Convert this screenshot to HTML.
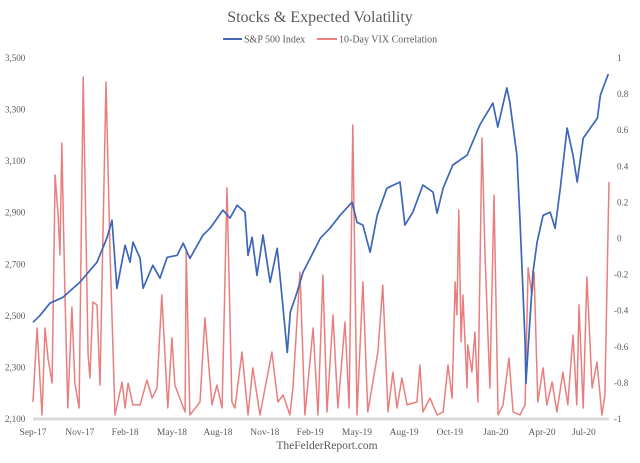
<!DOCTYPE html>
<html><head><meta charset="utf-8"><style>
html,body{margin:0;padding:0;background:#fff;}
svg{display:block;font-family:"Liberation Serif",serif;}
</style></head><body>
<svg id="chart" width="640" height="463" viewBox="0 0 640 463">
<text x="320" y="22" text-anchor="middle" font-size="16" fill="#595959">Stocks &amp; Expected Volatility</text>
<g>
<g><line x1="223" y1="39" x2="242" y2="39" stroke="#4169b8" stroke-width="2"/><text x="244" y="42.5" font-size="10" fill="#595959">S&amp;P 500 Index</text></g>
<g><line x1="317" y1="39" x2="337" y2="39" stroke="#ea8080" stroke-width="2"/><text x="339" y="42.5" font-size="10" fill="#595959">10-Day VIX Correlation</text></g>
</g>
<g id="leftAxis"></g>
<g id="rightAxis"></g>
<g id="xAxis"></g>
<line x1="33" y1="419" x2="609" y2="419" stroke="#d9d9d9" stroke-width="3"/>
<g id="series"></g>
<text x="327" y="449" text-anchor="middle" font-size="11.5" fill="#595959">TheFelderReport.com</text>
</svg>
<script>
const spWeeks=[0,1.9,4.5,8.0,12.5,17.1,19.8,21.1,22.4,24.6,25.9,26.7,28.6,29.4,32.0,33.9,35.8,38.5,40.1,41.9,45.4,47.3,50.7,52.6,54.5,56.6,57.4,58.5,59.8,61.4,63.3,65.2,66.0,67.9,68.7,70.5,72.1,74.0,76.7,79.3,82.0,85.2,86.5,88.1,90.0,91.9,94.5,98.0,99.3,101.4,104.1,106.8,107.9,109.5,112.1,115.9,119.3,122.8,124.1,126.5,127.3,129.2,130.0,131.4,131.6,133.5,134.6,136.2,138.1,139.4,140.8,142.6,144.2,145.3,146.9,150.7,151.5,153.6];
const spValues=[2475,2502,2549,2572,2630,2708,2805,2871,2607,2774,2708,2786,2723,2607,2696,2646,2727,2735,2782,2723,2813,2840,2910,2879,2929,2902,2735,2805,2657,2813,2630,2762,2646,2358,2514,2591,2669,2723,2801,2840,2890,2941,2863,2852,2747,2890,2995,3019,2852,2902,3007,2980,2898,2995,3085,3123,3240,3325,3232,3384,3329,3123,2879,2397,2238,2669,2786,2890,2902,2840,2995,3228,3123,3019,3189,3267,3356,3438];
const vixWeeks=[0,1.1,2.4,3.2,4.0,5.1,5.9,6.7,7.2,7.7,8.5,9.3,10.4,11.2,12.3,13.4,14.7,15.2,16.0,17.1,17.9,19.5,20.6,21.9,23.8,24.6,25.4,26.7,28.6,30.4,31.8,33.1,34.4,35.2,36.0,37.1,37.9,40.6,40.9,41.9,44.6,45.9,47.8,49.1,50.5,51.8,53.1,53.9,55.8,57.4,58.7,60.6,63.8,65.4,66.8,68.6,69.4,71.3,72.6,74.8,76.1,77.4,78.5,80.1,81.4,83.3,84.4,85.4,86.5,88.1,89.4,92.1,93.4,94.8,96.1,97.2,98.5,99.9,102.5,103.3,104.1,106.0,107.9,109.5,110.8,111.9,112.7,113.2,113.7,114.3,114.8,115.9,116.1,117.2,118.0,118.8,119.9,120.7,122.0,123.1,124.2,125.5,127.1,128.2,130.0,131.4,132.2,133.2,133.8,134.8,136.2,137.2,138.6,139.9,141.5,142.8,144.2,145.2,145.8,146.9,147.9,149.3,150.6,151.9,152.7,153.8];
const vixValues=[-0.906,-0.496,-0.978,-0.496,-0.662,-0.801,0.352,0.130,-0.091,0.529,-0.274,-0.939,-0.380,-0.801,-0.939,0.895,-0.645,-0.773,-0.352,-0.368,-0.812,0.867,-0.091,-0.978,-0.795,-0.939,-0.801,-0.922,-0.922,-0.784,-0.884,-0.828,-0.313,-0.629,-0.939,-0.551,-0.812,-0.961,-0.075,-0.978,-0.906,-0.440,-0.922,-0.812,-0.939,0.280,-0.906,-0.939,-0.629,-0.978,-0.717,-0.978,-0.629,-0.906,-0.867,-0.978,-0.828,-0.186,-0.978,-0.496,-0.978,-0.202,-0.961,-0.424,-0.939,-0.463,-0.939,0.629,-0.978,-0.241,-0.961,-0.629,-0.258,-0.961,-0.740,-0.939,-0.773,-0.922,-0.906,-0.701,-0.961,-0.884,-0.978,-0.961,-0.701,-0.884,-0.241,-0.424,0.158,-0.573,-0.313,-0.828,-0.590,-0.740,-0.518,-0.906,0.557,-0.091,-0.828,0.241,-0.978,-0.922,-0.662,-0.961,-0.978,-0.922,-0.163,-0.313,-0.186,-0.906,-0.717,-0.922,-0.795,-0.961,-0.740,-0.922,-0.535,-0.922,-0.368,-0.939,-0.213,-0.828,-0.684,-0.978,-0.867,0.313];
const xTickLabels=["Sep-17","Nov-17","Feb-18","May-18","Aug-18","Nov-18","Feb-19","May-19","Aug-19","Oct-19","Jan-20","Apr-20","Jul-20"];
const xTickWeeks=[0,12.5,24.6,37.1,49.4,61.9,74.0,86.5,99.1,111.3,123.6,135.9,147.1];
const leftTicks=[2100,2300,2500,2700,2900,3100,3300,3500];
const rightTicks=[-1,-0.8,-0.6,-0.4,-0.2,0,0.2,0.4,0.6,0.8,1];

const NS="http://www.w3.org/2000/svg";
const X0=33,X1=609,WMAX=153.8,Y0=58,Y1=419;
function xs(w){return X0+w/WMAX*(X1-X0);}
function yL(v){return Y1-(v-2100)/(3500-2100)*(Y1-Y0);}
function yR(v){return Y1-(v+1)/2*(Y1-Y0);}
function mk(tag,attrs,parent){const e=document.createElementNS(NS,tag);for(const k in attrs)e.setAttribute(k,attrs[k]);parent.appendChild(e);return e;}

const la=document.getElementById('leftAxis');
leftTicks.forEach(v=>{const t=mk('text',{x:5,y:yL(v)+3,'font-size':9,fill:'#595959'},la);t.textContent=v.toLocaleString('en-US');

});
const ra=document.getElementById('rightAxis');
rightTicks.forEach(v=>{const t=mk('text',{x:v<0?614:617,y:yR(v)+3,'font-size':9,fill:'#595959'},ra);t.textContent=String(v);

});
const xa=document.getElementById('xAxis');
xTickLabels.forEach((s,i)=>{const t=mk('text',{x:xs(xTickWeeks[i]),y:435,'font-size':9.5,fill:'#595959','text-anchor':'middle'},xa);t.textContent=s;

});

const g=document.getElementById('series');
const vp=vixWeeks.map((w,i)=>xs(w).toFixed(1)+','+yR(vixValues[i]).toFixed(1)).join(' ');
const vl=mk('polyline',{points:vp,fill:'none',stroke:'#ea7e7e','stroke-width':1.5,'stroke-linejoin':'round'},g);


const sp=spWeeks.map((w,i)=>xs(w).toFixed(1)+','+yL(spValues[i]).toFixed(1)).join(' ');
const sl=mk('polyline',{points:sp,fill:'none',stroke:'#3d66b8','stroke-width':1.7,'stroke-linejoin':'round'},g);


</script>
</body></html>
